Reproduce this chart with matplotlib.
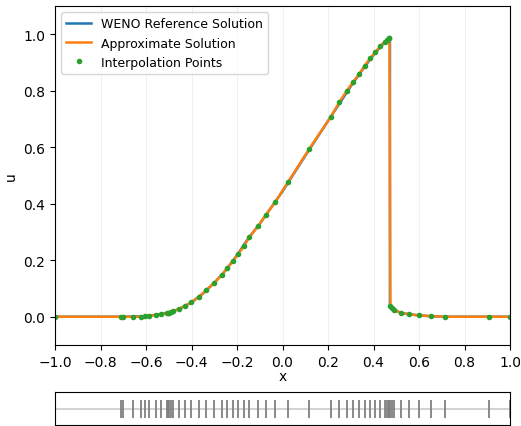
import numpy as np
import matplotlib.pyplot as plt

# interpolation points
x_pts = [-1.0, -0.711, -0.700, -0.659, -0.621, -0.603, -0.588, -0.556, -0.533,
         -0.509, -0.503, -0.497, -0.491, -0.480, -0.456, -0.430, -0.401, -0.368,
         -0.336, -0.301, -0.266, -0.243, -0.219, -0.196, -0.169, -0.146, -0.108,
         -0.073, -0.032, 0.024, 0.118, 0.212, 0.250, 0.282, 0.311, 0.338, 0.361,
         0.385, 0.408, 0.429, 0.449, 0.458, 0.466, 0.470, 0.474, 0.479, 0.490,
         0.520, 0.558, 0.601, 0.651, 0.716, 0.906, 1.0]
u_pts = [0.0, 0.0, 0.0, 0.0, 0.0, 0.002, 0.004, 0.006, 0.009,
         0.013, 0.014, 0.015, 0.016, 0.019, 0.028, 0.038, 0.051, 0.070,
         0.094, 0.119, 0.149, 0.173, 0.196, 0.222, 0.250, 0.282, 0.320,
         0.361, 0.406, 0.477, 0.595, 0.708, 0.760, 0.800, 0.832, 0.861, 0.889,
         0.915, 0.937, 0.957, 0.974, 0.980, 0.985, 0.988, 0.038, 0.031, 0.024,
         0.014, 0.008, 0.005, 0.002, 0.0, 0.0, 0.0]

# WENO reference solution
x_ref = [-1.0, -0.75, -0.70, -0.60, -0.50, -0.45, -0.40, -0.35, -0.30, -0.25,
         -0.20, -0.15, -0.10, 0.0, 0.10, 0.20, 0.30, 0.35, 0.40, 0.45, 0.472,
         0.472, 0.49, 0.52, 0.56, 0.60, 0.65, 0.72, 1.0]
u_ref = [0.0, 0.0, 0.0, 0.002, 0.014, 0.029, 0.051, 0.082, 0.120, 0.164,
         0.218, 0.278, 0.329, 0.444, 0.570, 0.693, 0.816, 0.873, 0.927, 0.973, 0.990,
         0.040, 0.024, 0.014, 0.008, 0.005, 0.002, 0.0, 0.0]

x_ticks = [-1.0, -0.8, -0.6, -0.4, -0.2, 0.0, 0.2, 0.4, 0.6, 0.8, 1.0]

fig = plt.figure(figsize=(5.21, 4.27), dpi=100)
ax = fig.add_axes([0.1056, 0.1897, 0.8734, 0.7939])
ax.plot(x_ref, u_ref, color="tab:blue", lw=1.8, label="WENO Reference Solution")
ax.plot(x_pts, u_pts, color="tab:orange", lw=1.8, label="Approximate Solution")
ax.plot(x_pts, u_pts, "o", color="tab:green", ms=3, label="Interpolation Points")
ax.set_xlim(-1, 1)
ax.set_ylim(-0.1, 1.1)
ax.set_xticks(x_ticks)
ax.set_xlabel("x", labelpad=0)
ax.set_ylabel("u")
ax.grid(axis="x", alpha=0.2)
ax.legend(loc="upper left", fontsize=9)

# strip showing the point locations
ax2 = fig.add_axes([0.1056, 0.0023, 0.8734, 0.0773])
ax2.axhline(0, color="lightgray", lw=1.5, zorder=1)
ax2.plot(x_pts, np.zeros(len(x_pts)), "|", color="gray", ms=13, mew=1.3, zorder=2)
ax2.set_xlim(-1, 1)
ax2.set_ylim(-1, 1)
ax2.set_xticks([])
ax2.set_yticks([])

fig.savefig("out.png", dpi=100)
